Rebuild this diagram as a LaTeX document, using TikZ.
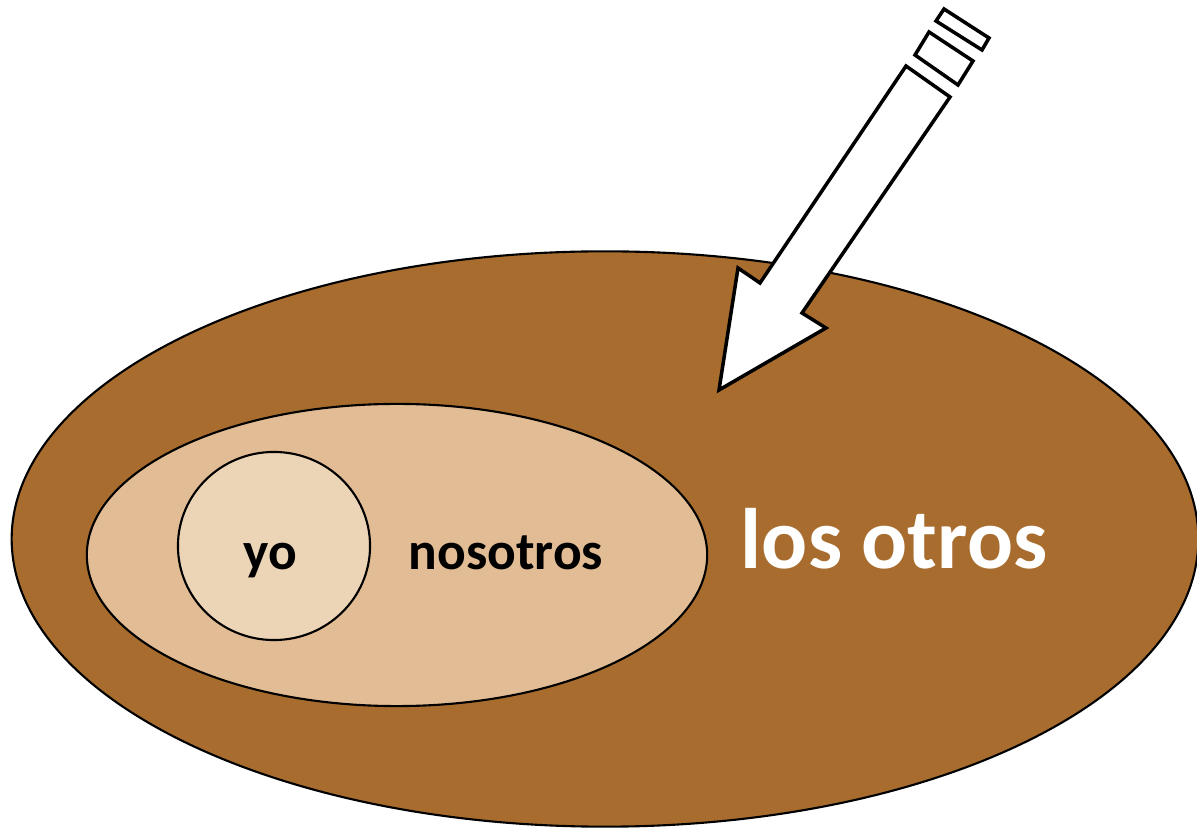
\documentclass[tikz,border=0pt]{standalone}
\usepackage{fontspec}
\setmainfont{Carlito}
\usetikzlibrary{shapes.geometric}
\definecolor{otrosfill}{HTML}{A86D2E}
\definecolor{nosfill}{HTML}{E2BC94}
\definecolor{yofill}{HTML}{ECD4B6}

\begin{document}
\begin{tikzpicture}[
  x=0.01cm, y=-0.01cm,
  region/.style={ellipse, draw=black, line width=0.6pt, fill=#1, inner sep=0pt},
  tag/.style={anchor=base, inner sep=0pt, font=\fontsize{15.2}{18}\selectfont\bfseries},
  pen/.style={draw=black, line width=1pt, fill=white, line join=miter},
]
  \useasboundingbox (0,0) rectangle (1197,828);

  % ---- the three nested regions -------------------------------------------
  \node[region=otrosfill, minimum width=11.86cm, minimum height=5.75cm] (otros) at (605,539) {};
  \node[region=nosfill, minimum width=6.20cm, minimum height=3.02cm] (nos) at (397,555) {};
  \node[region=yofill, minimum width=1.92cm, minimum height=1.88cm] (yo) at (274,546) {};

  % ---- the pointing arrow ---------------------------------------------------
  \draw[pen] (719,390) -- (826,328) -- (802,313) -- (950,97) -- (906,66)
    -- (760,283) -- (738,268) -- cycle;
  \draw[pen] (915,55) -- (929,32) -- (973,61) -- (958,85) -- cycle;
  \draw[pen] (936,21) -- (944,9) -- (989,38) -- (982,50) -- cycle;

  % ---- labels ---------------------------------------------------------------
  \node[tag] (yotxt) at (270,570) {yo};
  \node[tag] (nostxt) at (506,570) {nosotros};
  \node[tag, text=white, font=\fontsize{24.4}{29}\selectfont\bfseries] (otrostxt) at (894,569) {los otros};
\end{tikzpicture}
\end{document}
